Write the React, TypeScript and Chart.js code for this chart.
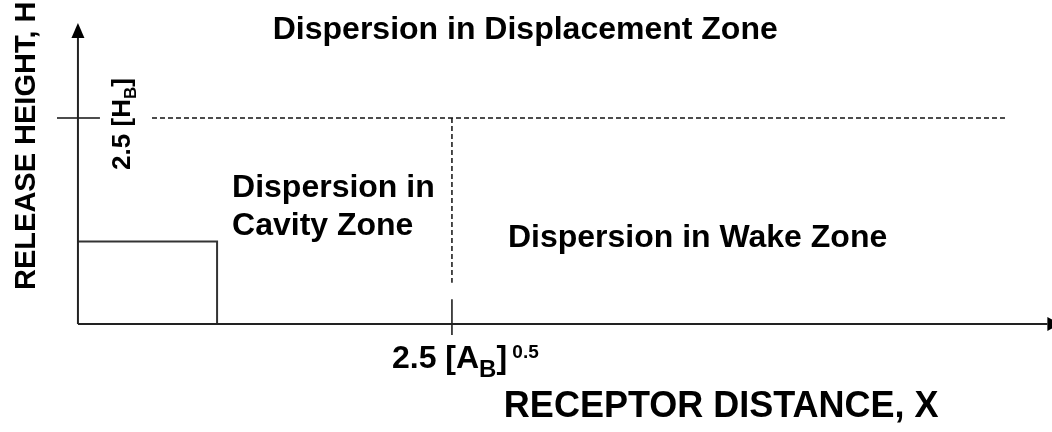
import React, { useEffect, useRef } from "react";
import { Chart, registerables } from "chart.js";

Chart.register(...registerables);

// Data units: x in units of [A_B]^0.5 (cavity edge at 2.5), y in units of H_B
const xRange = [-0.521, 6.511];
const yRange = [-1.311, 3.932];

const xAxisX = [0, 6.48];
const xAxisY = [0, 0];
const yAxisX = [0, 0];
const yAxisY = [0, 3.47];
const buildingX = [0, 0.93, 0.93];
const buildingY = [1.0, 1.0, 0];
const hbTickX = [-0.14, 0.147];
const hbTickY = [2.5, 2.5];
const displacementX = [0.495, 6.21];
const displacementY = [2.5, 2.5];
const cavityX = [2.5, 2.5];
const cavityY = [2.5, 0.5];
const abTickX = [2.5, 2.5];
const abTickY = [0.3, -0.133];

const FONT = '"Liberation Sans", Arial, Helvetica, sans-serif';

type Part = { t: string; s: number; dy?: number };
type Label = { x: number; y: number; align: "left" | "center"; rot: number; parts: Part[] };

const labels: Label[] = [
  { x: 2.99, y: 3.459, align: "center", rot: 0, parts: [{ t: "Dispersion in Displacement Zone", s: 32 }] },
  { x: 1.03, y: 1.541, align: "left", rot: 0, parts: [{ t: "Dispersion in", s: 32 }] },
  { x: 1.03, y: 1.08, align: "left", rot: 0, parts: [{ t: "Cavity Zone", s: 32 }] },
  { x: 2.874, y: 0.934, align: "left", rot: 0, parts: [{ t: "Dispersion in Wake Zone", s: 32 }] },
  {
    x: 2.099,
    y: -0.534,
    align: "left",
    rot: 0,
    parts: [
      { t: "2.5 [A", s: 32 },
      { t: "B", s: 24, dy: 9 },
      { t: "]", s: 32 },
      { t: " 0.5", s: 19, dy: -10 },
    ],
  },
  { x: 4.3, y: -1.13, align: "center", rot: 0, parts: [{ t: "RECEPTOR DISTANCE, X", s: 36 }] },
  { x: -0.287, y: 0.413, align: "left", rot: -Math.PI / 2, parts: [{ t: "RELEASE HEIGHT, H", s: 29 }] },
  {
    x: 0.35,
    y: 1.87,
    align: "left",
    rot: -Math.PI / 2,
    parts: [
      { t: "2.5 [H", s: 26 },
      { t: "B", s: 17, dy: 6 },
      { t: "]", s: 26 },
    ],
  },
];

const labelPlugin = {
  id: "diagramLabels",
  afterDatasetsDraw(chart: any) {
    const ctx = chart.ctx;
    const xs = chart.scales.x;
    const ys = chart.scales.y;
    labels.forEach((lb) => {
      const px = xs.getPixelForValue(lb.x);
      const py = ys.getPixelForValue(lb.y);
      ctx.save();
      ctx.translate(px, py);
      ctx.rotate(lb.rot);
      ctx.fillStyle = "#000";
      ctx.textBaseline = "alphabetic";
      ctx.textAlign = "left";
      let total = 0;
      lb.parts.forEach((p) => {
        ctx.font = `bold ${p.s}px ${FONT}`;
        total += ctx.measureText(p.t).width;
      });
      let cx = lb.align === "center" ? -total / 2 : 0;
      lb.parts.forEach((p) => {
        ctx.font = `bold ${p.s}px ${FONT}`;
        ctx.fillText(p.t, cx, p.dy || 0);
        cx += ctx.measureText(p.t).width;
      });
      ctx.restore();
    });
  },
};

const arrowPlugin = {
  id: "arrowHeads",
  afterDatasetsDraw(chart: any) {
    const ctx = chart.ctx;
    chart.data.datasets.forEach((ds: any, i: number) => {
      if (!ds.arrow) return;
      const pts = chart.getDatasetMeta(i).data;
      const a = pts[pts.length - 2];
      const b = pts[pts.length - 1];
      const dx = b.x - a.x;
      const dy = b.y - a.y;
      const d = Math.hypot(dx, dy) || 1;
      const ux = dx / d;
      const uy = dy / d;
      const { len, width } = ds.arrow;
      ctx.save();
      ctx.fillStyle = "#000";
      ctx.beginPath();
      ctx.moveTo(b.x + ux * len, b.y + uy * len);
      ctx.lineTo(b.x - uy * width / 2, b.y + ux * width / 2);
      ctx.lineTo(b.x + uy * width / 2, b.y - ux * width / 2);
      ctx.closePath();
      ctx.fill();
      ctx.restore();
    });
  },
};

const toPts = (xs: number[], ys: number[]) => xs.map((x, i) => ({ x, y: ys[i] }));

export default function App() {
  const ref = useRef<HTMLCanvasElement | null>(null);
  useEffect(() => {
    document.body.style.margin = "0";
    const solid = (data: any, width: number, color = "#222", extra: any = {}) => ({
      data,
      showLine: true,
      pointRadius: 0,
      borderColor: color,
      borderWidth: width,
      fill: false,
      ...extra,
    });
    const chart = new Chart(ref.current as HTMLCanvasElement, {
      type: "scatter",
      data: {
        datasets: [
          solid(toPts(xAxisX, xAxisY), 2, "#222", { arrow: { len: 13, width: 14 } }),
          solid(toPts(yAxisX, yAxisY), 2, "#222", { arrow: { len: 15, width: 13 } }),
          solid(toPts(buildingX, buildingY), 2, "#333"),
          solid(toPts(hbTickX, hbTickY), 1.5, "#111"),
          solid(toPts(displacementX, displacementY), 1.5, "#111", { borderDash: [5, 3] }),
          solid(toPts(cavityX, cavityY), 1.5, "#111", { borderDash: [5, 3] }),
          solid(toPts(abTickX, abTickY), 1.5, "#111"),
        ] as any,
      },
      options: {
        animation: false,
        responsive: false,
        layout: { padding: 0 },
        scales: {
          x: { type: "linear", display: false, min: xRange[0], max: xRange[1] },
          y: { type: "linear", display: false, min: yRange[0], max: yRange[1] },
        },
        plugins: {
          legend: { display: false },
          tooltip: { enabled: false },
          title: { display: false },
        },
      } as any,
      plugins: [arrowPlugin, labelPlugin],
    });
    return () => chart.destroy();
  }, []);
  return (
    <div style={{ width: 1052, height: 432, background: "#fff" }}>
      <canvas ref={ref} width={1052} height={432} />
    </div>
  );
}
